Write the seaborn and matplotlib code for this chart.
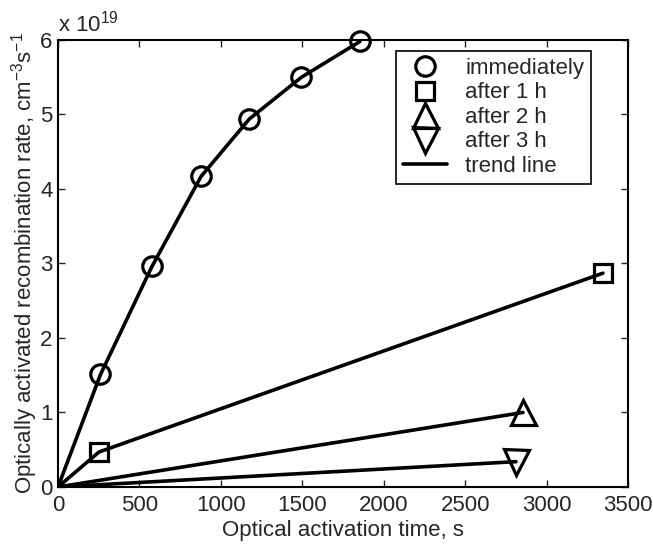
import numpy as np
import pandas as pd
import matplotlib
matplotlib.use("Agg")
import matplotlib.pyplot as plt
from matplotlib.lines import Line2D
import seaborn as sns

# data (rate in units of 1e19 cm^-3 s^-1)
t_immediate = [0, 261, 577, 879, 1175, 1495, 1854]
r_immediate = [0, 1.51, 2.96, 4.17, 4.94, 5.50, 5.98]
t_1h = [0, 252, 3346]
r_1h = [0, 0.47, 2.87]
t_2h = [0, 2855]
r_2h = [0, 1.00]
t_3h = [0, 2812]
r_3h = [0, 0.34]
labels = ['immediately', 'after 1 h', 'after 2 h', 'after 3 h', 'trend line']

sns.set_style("ticks")
plt.rcParams['font.family'] = ['Liberation Sans', 'DejaVu Sans']
plt.rcParams['mathtext.fontset'] = 'custom'
plt.rcParams['mathtext.rm'] = 'Liberation Sans'
plt.rcParams['mathtext.it'] = 'Liberation Sans'

fig = plt.figure(figsize=(6.53, 5.44), dpi=100)
ax = fig.add_axes([0.0888, 0.1048, 0.8729, 0.8217])

series = [
    (t_immediate, r_immediate, 'o', 14),
    (t_1h, r_1h, 's', 12.5),
    (t_2h, r_2h, '^', 18),
    (t_3h, r_3h, 'v', 18),
]
for t, r, m, ms in series:
    df = pd.DataFrame({'t': t, 'r': r})
    sns.lineplot(data=df, x='t', y='r', ax=ax, color='black', linewidth=2.6,
                 sort=False, legend=False)
    pts = df.iloc[1:]
    ax.plot(pts['t'], pts['r'], linestyle='none', marker=m, markersize=ms,
            markerfacecolor='none', markeredgecolor='black', markeredgewidth=2.3,
            clip_on=False, zorder=5)

ax.set_xlim(0, 3500)
ax.set_ylim(0, 6)
ax.set_xticks(np.arange(0, 3501, 500))
ax.set_yticks(np.arange(0, 7, 1))
ax.tick_params(direction='in', length=5, width=1, labelsize=16,
               top=True, right=True, pad=4)
ax.tick_params(axis='x', pad=6)
for s in ax.spines.values():
    s.set_visible(True)
    s.set_linewidth(1.5)
    s.set_color('black')

ax.set_xlabel('Optical activation time, s', fontsize=16, labelpad=3)
ax.set_ylabel('Optically activated recombination rate, cm$^{-3}$s$^{-1}$',
              fontsize=16, labelpad=0)
ax.text(0.0, 1.008, 'x 10$^{19}$', transform=ax.transAxes, fontsize=16,
        ha='left', va='bottom')

mk = dict(linestyle='none', markerfacecolor='none', markeredgecolor='black',
          markeredgewidth=2.3)
handles = [
    Line2D([], [], marker='o', markersize=14, **mk),
    Line2D([], [], marker='s', markersize=12.5, **mk),
    Line2D([], [], marker='^', markersize=18, **mk),
    Line2D([], [], marker='v', markersize=18, **mk),
    Line2D([], [], color='black', linewidth=2.6),
]
leg = ax.legend(handles, labels, loc='upper right', bbox_to_anchor=(0.935, 0.975),
                fontsize=16, frameon=True, fancybox=False, framealpha=1,
                edgecolor='black', labelspacing=0.16, handlelength=2.0,
                handletextpad=0.8, borderpad=0.3, borderaxespad=0)
leg.get_frame().set_linewidth(1.2)

fig.savefig('out.png', dpi=100)
